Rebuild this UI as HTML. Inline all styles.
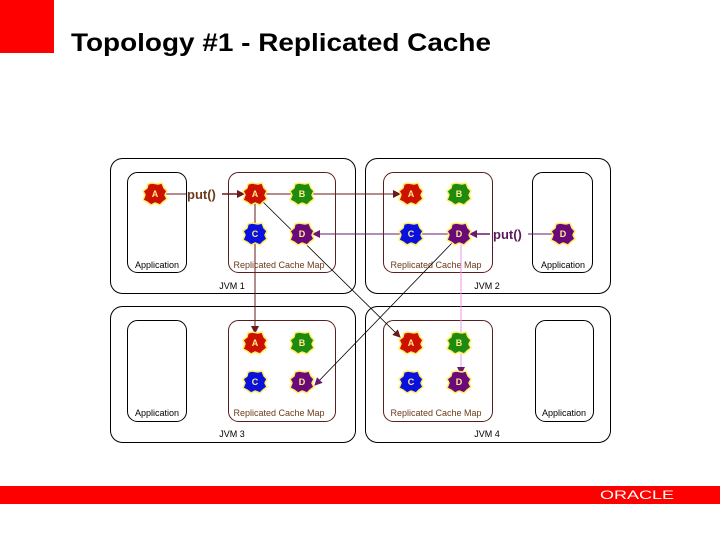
<!DOCTYPE html>
<html><head><meta charset="utf-8"><style>
html,body{margin:0;padding:0;background:#fff;width:720px;height:540px;overflow:hidden}
</style></head><body>
<svg width="720" height="540" viewBox="0 0 720 540" xmlns="http://www.w3.org/2000/svg" font-family="Liberation Sans, DejaVu Sans, sans-serif">
<defs>
<path id="blob" d="M-3,-11 L3,-10 L7,-11 L9,-6 L12,-3 L10,1 L12,5 L8,8 L5,11 L0,9 L-4,11 L-8,8 L-12,6 L-10,1 L-12,-3 L-8,-6 L-7,-10 Z" stroke="#ffee66" stroke-width="1.5" stroke-linejoin="round"/>
<marker id="ar" markerWidth="8" markerHeight="8" refX="7" refY="4" orient="auto" markerUnits="userSpaceOnUse"><path d="M0,0 L8,4 L0,8 Z" fill="#6b1a1a"/></marker>
<marker id="ap" markerWidth="8" markerHeight="8" refX="7" refY="4" orient="auto" markerUnits="userSpaceOnUse"><path d="M0,0 L8,4 L0,8 Z" fill="#6a1a6a"/></marker>
</defs>
<rect x="0" y="0" width="54" height="53" fill="#ff0000"/>
<text x="71" y="51" font-size="25" font-weight="bold" fill="#000" textLength="420" lengthAdjust="spacingAndGlyphs">Topology #1 - Replicated Cache</text>
<rect x="0" y="486" width="720" height="18" fill="#ff0000"/>
<text x="600" y="499" font-size="12" fill="#fff" textLength="74" lengthAdjust="spacingAndGlyphs">ORACLE</text>

<g fill="none" stroke="#000" stroke-width="1">
<rect x="110.5" y="158.5" width="245" height="135" rx="12"/>
<rect x="365.5" y="158.5" width="245" height="135" rx="12"/>
<rect x="110.5" y="306.5" width="245" height="136" rx="12"/>
<rect x="365.5" y="306.5" width="245" height="136" rx="12"/>
<rect x="127.5" y="172.5" width="59" height="100" rx="10"/>
<rect x="532.5" y="172.5" width="60" height="100" rx="10"/>
<rect x="127.5" y="320.5" width="59" height="101" rx="10"/>
<rect x="535.5" y="320.5" width="58" height="101" rx="10"/>
</g>
<g fill="none" stroke="#5a1e1e" stroke-width="1">
<rect x="228.5" y="172.5" width="107" height="100" rx="10"/>
<rect x="383.5" y="172.5" width="109" height="100" rx="10"/>
<rect x="228.5" y="320.5" width="107" height="101" rx="10"/>
<rect x="383.5" y="320.5" width="109" height="101" rx="10"/>
</g>
<g font-size="9" fill="#000">
<text x="157" y="268" text-anchor="middle">Application</text>
<text x="563" y="268" text-anchor="middle">Application</text>
<text x="157" y="416" text-anchor="middle">Application</text>
<text x="564" y="416" text-anchor="middle">Application</text>
<text x="232" y="289" text-anchor="middle">JVM 1</text>
<text x="487" y="289" text-anchor="middle">JVM 2</text>
<text x="232" y="437" text-anchor="middle">JVM 3</text>
<text x="487" y="437" text-anchor="middle">JVM 4</text>
</g>
<g font-size="9" fill="#6b3a1a">
<text x="279" y="268" text-anchor="middle">Replicated Cache Map</text>
<text x="436" y="268" text-anchor="middle">Replicated Cache Map</text>
<text x="279" y="416" text-anchor="middle">Replicated Cache Map</text>
<text x="436" y="416" text-anchor="middle">Replicated Cache Map</text>
</g>

<g fill="none" stroke-width="1">
<line x1="163" y1="194" x2="186" y2="194" stroke="#6b1a1a"/>
<line x1="222" y1="194" x2="244" y2="194" stroke="#6b1a1a" stroke-width="1.5" marker-end="url(#ar)"/>
<line x1="265" y1="194" x2="400" y2="194" stroke="#6b1a1a" marker-end="url(#ar)"/>
<line x1="255" y1="204" x2="255" y2="333" stroke="#6b1a1a" marker-end="url(#ar)"/>
<line x1="262" y1="201" x2="400" y2="337" stroke="#000" stroke-width="0.8" marker-end="url(#ar)"/>
<line x1="448" y1="234" x2="313" y2="234" stroke="#6a1a6a" marker-end="url(#ap)"/>
<line x1="528" y1="234" x2="552" y2="234" stroke="#6a1a6a"/>
<line x1="490" y1="234" x2="470" y2="234" stroke="#6a1a6a" stroke-width="1.5" marker-end="url(#ap)"/>
<line x1="453" y1="242" x2="315" y2="385" stroke="#000" stroke-width="0.8" marker-end="url(#ap)"/>
<line x1="461" y1="242" x2="461" y2="374" stroke="#ee99ee" marker-end="url(#ap)"/>
</g>
<text x="187" y="199" font-size="13" font-weight="bold" fill="#6b3a1a">put()</text>
<text x="493" y="239" font-size="13" font-weight="bold" fill="#5a1a5a">put()</text>

<g font-size="9" font-weight="bold" text-anchor="middle">
<g transform="translate(155,194)"><use href="#blob" fill="#cc1100"/><text y="3" fill="#ffee88">A</text></g>
<g transform="translate(563,234)"><use href="#blob" fill="#6a0a7a"/><text y="3" fill="#ffee88">D</text></g>
<g transform="translate(255,194)"><use href="#blob" fill="#cc1100"/><text y="3" fill="#ffee88">A</text></g>
<g transform="translate(302,194)"><use href="#blob" fill="#1e8a10"/><text y="3" fill="#ffee88">B</text></g>
<g transform="translate(255,234)"><use href="#blob" fill="#0a10dd"/><text y="3" fill="#ffee88">C</text></g>
<g transform="translate(302,234)"><use href="#blob" fill="#6a0a7a"/><text y="3" fill="#ffee88">D</text></g>
<g transform="translate(411,194)"><use href="#blob" fill="#cc1100"/><text y="3" fill="#ffee88">A</text></g>
<g transform="translate(459,194)"><use href="#blob" fill="#1e8a10"/><text y="3" fill="#ffee88">B</text></g>
<g transform="translate(411,234)"><use href="#blob" fill="#0a10dd"/><text y="3" fill="#ffee88">C</text></g>
<g transform="translate(459,234)"><use href="#blob" fill="#6a0a7a"/><text y="3" fill="#ffee88">D</text></g>
<g transform="translate(255,343)"><use href="#blob" fill="#cc1100"/><text y="3" fill="#ffee88">A</text></g>
<g transform="translate(302,343)"><use href="#blob" fill="#1e8a10"/><text y="3" fill="#ffee88">B</text></g>
<g transform="translate(255,382)"><use href="#blob" fill="#0a10dd"/><text y="3" fill="#ffee88">C</text></g>
<g transform="translate(302,382)"><use href="#blob" fill="#6a0a7a"/><text y="3" fill="#ffee88">D</text></g>
<g transform="translate(411,343)"><use href="#blob" fill="#cc1100"/><text y="3" fill="#ffee88">A</text></g>
<g transform="translate(459,343)"><use href="#blob" fill="#1e8a10"/><text y="3" fill="#ffee88">B</text></g>
<g transform="translate(411,382)"><use href="#blob" fill="#0a10dd"/><text y="3" fill="#ffee88">C</text></g>
<g transform="translate(459,382)"><use href="#blob" fill="#6a0a7a"/><text y="3" fill="#ffee88">D</text></g>
</g>
</svg>
</body></html>
